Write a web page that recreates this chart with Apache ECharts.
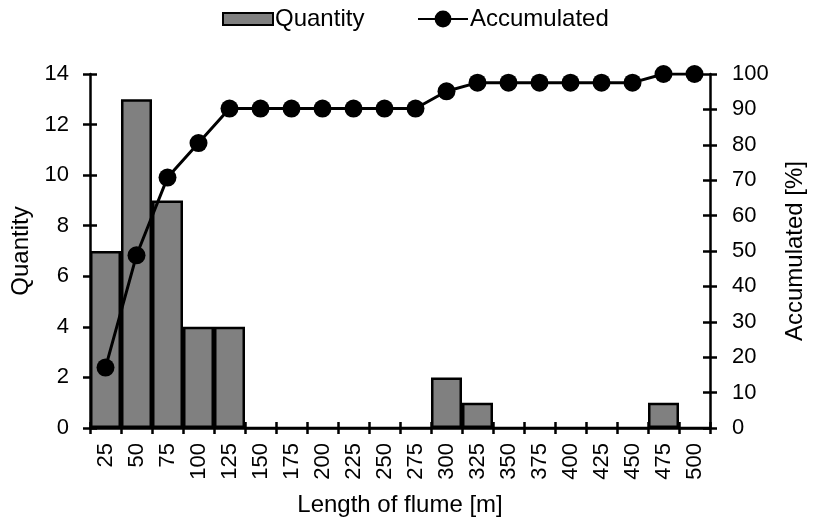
<!DOCTYPE html>
<html>
<head>
<meta charset="utf-8">
<script src="https://cdn.jsdelivr.net/npm/echarts@6/dist/echarts.min.js"></script>
<style>
  html, body { margin: 0; padding: 0; background: #fff; }
  #chart { width: 815px; height: 524px; }
</style>
</head>
<body>
<div id="chart"></div>
<script>
// Flume length classes [m]
const lengths = ['25','50','75','100','125','150','175','200','225','250','275','300','325','350','375','400','425','450','475','500'];
// Number of flumes in each class
const quantity = [7, 13, 9, 4, 4, 0, 0, 0, 0, 0, 0, 2, 1, 0, 0, 0, 0, 0, 1, 0];
// Running share of flumes [%]
const accumulated = [17.07, 48.78, 70.73, 80.49, 90.24, 90.24, 90.24, 90.24, 90.24, 90.24, 90.24, 95.12, 97.56, 97.56, 97.56, 97.56, 97.56, 97.56, 100, 100];

const FONT = 'Liberation Sans, Arial, sans-serif';
const lineStyle = { color: '#000', width: 2.5 };
const tickFont = { color: '#000', fontFamily: FONT, fontSize: 22 };
const nameFont = { color: '#000', fontFamily: FONT, fontSize: 24 };
const legendText = { color: '#000', fontFamily: FONT, fontSize: 24, padding: [0, 0, 0, -3] };

const chart = echarts.init(document.getElementById('chart'), null, { renderer: 'canvas' });

chart.setOption({
  animation: false,
  backgroundColor: '#fff',
  textStyle: { fontFamily: FONT },
  legend: [
    {
      top: 2,
      left: 217,
      itemWidth: 50,
      itemHeight: 12,
      textStyle: legendText,
      data: [{ name: 'Quantity', icon: 'rect' }]
    },
    {
      top: 2,
      left: 412,
      itemWidth: 50,
      itemHeight: 21,
      textStyle: legendText,
      data: [{ name: 'Accumulated' }]
    }
  ],
  grid: { left: 90, right: 101, top: 74, bottom: 96, containLabel: false },
  xAxis: [
    {
      type: 'category',
      data: lengths,
      boundaryGap: true,
      name: 'Length of flume [m]',
      nameLocation: 'middle',
      nameGap: 65,
      nameTextStyle: nameFont,
      axisLine: { lineStyle },
      axisTick: { show: true, length: 6, lineStyle },
      axisLabel: Object.assign({ rotate: 90, margin: 15, interval: 0 }, tickFont),
      splitLine: { show: false }
    },
    {
      // inner half of the crossing tick marks
      type: 'category',
      data: lengths,
      position: 'bottom',
      boundaryGap: true,
      axisLine: { show: false },
      axisTick: { show: true, inside: true, length: 6, lineStyle },
      axisLabel: { show: false },
      splitLine: { show: false }
    }
  ],
  yAxis: [
    {
      type: 'value',
      min: 0, max: 14, interval: 2,
      name: 'Quantity',
      nameLocation: 'middle',
      nameGap: 57,
      nameTextStyle: nameFont,
      axisLine: { show: true, lineStyle },
      axisTick: { show: true, length: 7, lineStyle },
      axisLabel: Object.assign({ margin: 21 }, tickFont),
      splitLine: { show: false }
    },
    {
      type: 'value',
      min: 0, max: 100, interval: 10,
      position: 'right',
      name: 'Accumulated [%]',
      nameLocation: 'middle',
      nameGap: 73,
      nameRotate: 90,
      nameTextStyle: nameFont,
      axisLine: { show: true, lineStyle },
      axisTick: { show: true, length: 7, lineStyle },
      axisLabel: Object.assign({ margin: 22 }, tickFont),
      splitLine: { show: false }
    },
    {
      type: 'value',
      min: 0, max: 14, interval: 2,
      position: 'left',
      axisLine: { show: false },
      axisTick: { show: true, inside: true, length: 7, lineStyle },
      axisLabel: { show: false },
      splitLine: { show: false }
    },
    {
      type: 'value',
      min: 0, max: 100, interval: 10,
      position: 'right',
      axisLine: { show: false },
      axisTick: { show: true, inside: true, length: 7, lineStyle },
      axisLabel: { show: false },
      splitLine: { show: false }
    }
  ],
  series: [
    {
      name: 'Quantity',
      type: 'bar',
      data: quantity,
      xAxisIndex: 0,
      yAxisIndex: 0,
      barCategoryGap: '0%',
      itemStyle: { color: '#808080', borderColor: '#000', borderWidth: 2.5 },
      z: 2
    },
    {
      name: 'Accumulated',
      type: 'line',
      data: accumulated,
      xAxisIndex: 0,
      yAxisIndex: 1,
      symbol: 'circle',
      symbolSize: 18,
      itemStyle: { color: '#000' },
      lineStyle: { color: '#000', width: 3 },
      z: 3
    }
  ]
});
</script>
</body>
</html>
